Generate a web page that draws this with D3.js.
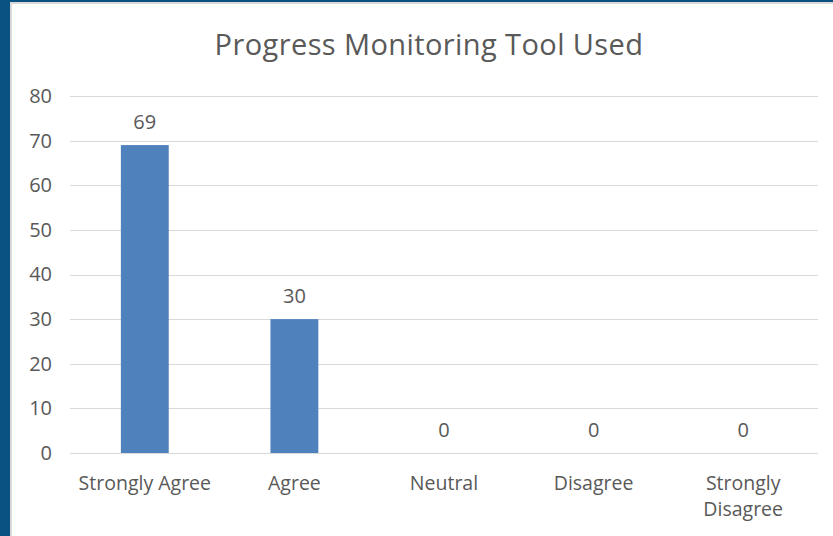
<!DOCTYPE html>
<html>
<head>
<meta charset="utf-8">
<script src="https://cdn.jsdelivr.net/npm/d3@7"></script>
<style>
  body { margin: 0; background: #fff; }
  svg text { font-family: "Open Sans", Lato, sans-serif; fill: #595959; }
</style>
</head>
<body>
<div id="plot"></div>
<script>
var categories = [["Strongly Agree"], ["Agree"], ["Neutral"], ["Disagree"], ["Strongly", "Disagree"]];
var values = [69, 30, 0, 0, 0];
var yTicks = [0, 10, 20, 30, 40, 50, 60, 70, 80];
var title = "Progress Monitoring Tool Used";

var W = 833, H = 536;
var margin = { top: 96, right: 15, bottom: 83, left: 70 };

var svg = d3.select("#plot").append("svg")
    .attr("width", W)
    .attr("height", H);

// frame: dark blue edge on the left and top
svg.append("rect").attr("x", 0).attr("y", 0).attr("width", W).attr("height", H).attr("fill", "#0a5282");
svg.append("rect").attr("x", 10).attr("y", 2).attr("width", W - 10).attr("height", H - 2).attr("fill", "#d9d9d9");
svg.append("rect").attr("x", 12).attr("y", 4).attr("width", W - 12).attr("height", H - 4).attr("fill", "#fff");

var x = d3.scaleBand()
    .domain(d3.range(categories.length))
    .range([margin.left, W - margin.right])
    .paddingInner(0.68)
    .paddingOuter(0.34);

var y = d3.scaleLinear()
    .domain([0, 80])
    .range([H - margin.bottom, margin.top]);

// title
svg.append("text")
    .attr("x", 429)
    .attr("y", 55)
    .attr("text-anchor", "middle")
    .style("font-size", "29px")
    .style("letter-spacing", "0.4px")
    .text(title);

// gridlines
svg.append("g")
    .selectAll("line")
    .data(yTicks).enter()
    .append("line")
    .attr("x1", margin.left)
    .attr("x2", W - margin.right)
    .attr("y1", function(d) { return Math.round(y(d)) + 0.5; })
    .attr("y2", function(d) { return Math.round(y(d)) + 0.5; })
    .attr("stroke", "#d9d9d9")
    .attr("stroke-width", 1);

// y axis labels
var yAxis = d3.axisLeft(y).tickValues(yTicks).tickSize(0).tickPadding(18);
var gy = svg.append("g")
    .attr("transform", "translate(" + margin.left + ",0)")
    .call(yAxis);
gy.select(".domain").remove();
gy.selectAll("text").style("font-size", "20px").style("font-family", null).attr("fill", null);

// bars
svg.append("g")
    .selectAll("rect")
    .data(values).enter()
    .append("rect")
    .attr("x", function(d, i) { return x(i); })
    .attr("width", x.bandwidth())
    .attr("y", function(d) { return y(d); })
    .attr("height", function(d) { return y(0) - y(d); })
    .attr("fill", "#4f81bd");

// value labels
svg.append("g")
    .selectAll("text")
    .data(values).enter()
    .append("text")
    .attr("x", function(d, i) { return x(i) + x.bandwidth() / 2; })
    .attr("y", function(d) { return y(d) - 16; })
    .attr("text-anchor", "middle")
    .style("font-size", "20px")
    .text(function(d) { return d; });

// category labels
var gx = svg.append("g");
categories.forEach(function(lines, i) {
    var t = gx.append("text")
        .attr("x", x(i) + x.bandwidth() / 2)
        .attr("y", 490)
        .attr("text-anchor", "middle")
        .style("font-size", "19.5px");
    lines.forEach(function(s, j) {
        t.append("tspan")
            .attr("x", x(i) + x.bandwidth() / 2)
            .attr("dy", j === 0 ? 0 : 26)
            .text(s);
    });
});
</script>
</body>
</html>
